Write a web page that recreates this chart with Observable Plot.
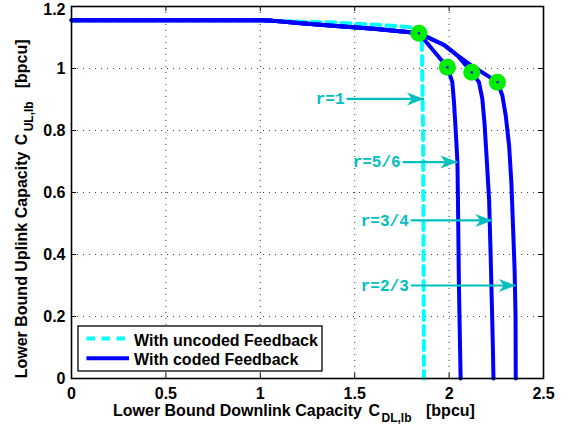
<!DOCTYPE html>
<html><head><meta charset="utf-8">
<script src="https://cdn.jsdelivr.net/npm/d3@7"></script>
<script src="https://cdn.jsdelivr.net/npm/@observablehq/plot@0.6"></script>
<style>body{margin:0;background:#fff;} svg{display:block}</style>
</head><body><div id="chart"></div>
<script>
// ---- tick labels ----
const xTicks = [0, 0.5, 1, 1.5, 2, 2.5];
const xTickLabels = ["0", "0.5", "1", "1.5", "2", "2.5"];
const yTicks = [0, 0.2, 0.4, 0.6, 0.8, 1, 1.2];
const yTickLabels = ["0", "0.2", "0.4", "0.6", "0.8", "1", "1.2"];

// ---- uncoded feedback (cyan dashed) ----
const uncodedX = [0, 1.0, 1.4, 1.7, 1.82, 1.855, 1.862, 1.867];
const uncodedY = [1.155, 1.155, 1.148, 1.138, 1.132, 1.11, 0.8, 0];

// ---- coded feedback (blue), shared upper part ----
const sharedX = [0, 1.0, 1.05, 1.1, 1.2, 1.4, 1.6, 1.78, 1.84];
const sharedY = [1.156, 1.156, 1.155, 1.152, 1.147, 1.137, 1.128, 1.118, 1.114];

// r = 5/6 branch
const r56X = [1.991, 2.017, 2.026, 2.035, 2.044, 2.047, 2.052, 2.058, 2.061];
const r56Y = [1.004, 0.956, 0.891, 0.8, 0.7, 0.574, 0.3, 0.1, 0];
// r = 3/4 branch
const r34X = [1.973, 2.044, 2.12, 2.158, 2.176, 2.188, 2.2, 2.212, 2.22, 2.226, 2.232, 2.235];
const r34Y = [1.076, 1.042, 0.988, 0.956, 0.902, 0.82, 0.7, 0.574, 0.4, 0.25, 0.1, 0];
// r = 2/3 branch
const r23X = [1.973, 2.044, 2.132, 2.203, 2.256, 2.282, 2.3, 2.318, 2.33, 2.338, 2.347, 2.352, 2.353];
const r23Y = [1.076, 1.042, 1.004, 0.977, 0.956, 0.913, 0.848, 0.75, 0.63, 0.5, 0.35, 0.2, 0];

// ---- green operating points ----
const markX = [1.84, 1.991, 2.12, 2.256];
const markY = [1.114, 1.004, 0.988, 0.956];

// ---- rate annotations ----
const rateLabels = ["r=1", "r=5/6", "r=3/4", "r=2/3"];
const rateY = [0.902, 0.698, 0.51, 0.30];
const rateX1 = [1.457, 1.754, 1.797, 1.797];
const rateX2 = [1.867, 2.044, 2.229, 2.353];

// ---- legend ----
const legendLabels = ["With uncoded Feedback", "With coded Feedback"];

// ---- build tables ----
const zip = (xs, ys, s) => xs.map((x, i) => ({x, y: ys[i], s}));
const uncoded = zip(uncodedX, uncodedY, "uncoded");
const coded = [
  ...zip([...sharedX, ...r56X], [...sharedY, ...r56Y], "5/6"),
  ...zip([...sharedX, ...r34X], [...sharedY, ...r34Y], "3/4"),
  ...zip([...sharedX, ...r23X], [...sharedY, ...r23Y], "2/3")
];
const marks = zip(markX, markY, "m");
const rates = rateLabels.map((t, i) => ({t, y: rateY[i], x1: rateX1[i], x2: rateX2[i]}));

const teal = "#00bfbf";
const arrowHead = {draw(ctx) { ctx.moveTo(0, 0); ctx.lineTo(-17, -6.5); ctx.lineTo(-12, 0); ctx.lineTo(-17, 6.5); ctx.closePath(); }};

const W = 567, H = 427, mL = 71, mR = 24, mT = 6, mB = 49;
const iw = W - mL - mR, ih = H - mT - mB;
const topTick = yTicks[yTicks.length - 1];
const fmtY = d => yTickLabels[yTicks.indexOf(d)];

const chart = Plot.plot({
  width: W, height: H,
  marginLeft: mL, marginRight: mR, marginTop: mT, marginBottom: mB,
  style: {fontFamily: "Liberation Sans, Arial, sans-serif", fontSize: "16px", fontWeight: "bold", background: "#fff", color: "#000", overflow: "visible"},
  x: {domain: [0, 2.5]},
  y: {domain: [0, 1.2]},
  marks: [
    Plot.gridX(xTicks, {stroke: "#000", strokeOpacity: 0.75, strokeDasharray: "1,5"}),
    Plot.gridY(yTicks, {stroke: "#000", strokeOpacity: 0.75, strokeDasharray: "1,5"}),
    Plot.ruleX(xTicks, {x: d => d, insetTop: ih - 5, stroke: "#000"}),
    Plot.ruleX(xTicks, {x: d => d, insetBottom: ih - 5, stroke: "#000"}),
    Plot.ruleY(yTicks, {y: d => d, insetRight: iw - 5, stroke: "#000"}),
    Plot.ruleY(yTicks, {y: d => d, insetLeft: iw - 5, stroke: "#000"}),
    Plot.axisX(xTicks, {tickSize: 0, tickPadding: 9, tickFormat: d => xTickLabels[xTicks.indexOf(d)], fontSize: 16, fontWeight: "bold", label: null}),
    Plot.axisY(yTicks.filter(d => d !== topTick), {tickSize: 0, tickPadding: 6, tickFormat: fmtY, fontSize: 16, fontWeight: "bold", label: null}),
    Plot.axisY([topTick], {tickSize: 0, tickPadding: 6, tickFormat: fmtY, fontSize: 16, fontWeight: "bold", label: null, dy: 3}),
    Plot.line(uncoded, {x: "x", y: "y", stroke: "#00ffff", strokeWidth: 4, strokeDasharray: "9,6", curve: "linear"}),
    Plot.line(coded, {x: "x", y: "y", z: "s", stroke: "#0000ff", strokeWidth: 4, curve: "linear", strokeLinejoin: "round"}),
    Plot.dot(marks, {x: "x", y: "y", r: 8.5, fill: "#00ee00", stroke: "none"}),
    Plot.dot(marks, {x: "x", y: "y", r: 1.2, fill: "#0000ff", stroke: "none"}),
    Plot.link(rates, {x1: "x1", x2: "x2", y1: "y", y2: "y", stroke: teal, strokeWidth: 2.2}),
    Plot.dot(rates, {x: "x2", y: "y", symbol: arrowHead, fill: teal, stroke: "none"}),
    Plot.text(rates, {x: "x1", y: "y", text: "t", textAnchor: "end", dx: -2, fill: teal, fontFamily: "Liberation Mono, monospace", fontSize: 16, fontWeight: "bold"}),
    Plot.frame({stroke: "#000", strokeWidth: 1.6})
  ]
});

document.getElementById("chart").appendChild(chart);
const svg = d3.select(chart);

// axis labels with subscripts
const xl = svg.append("text").attr("y", 416).attr("text-anchor", "start").attr("font-size", 16).attr("font-weight", "bold").attr("fill", "#000");
xl.append("tspan").attr("x", 113).text("Lower Bound Downlink Capacity");
xl.append("tspan").attr("x", 368.5).text("C");
xl.append("tspan").attr("x", 381.5).attr("dy", 5.5).attr("font-size", 12).text("DL,lb");
xl.append("tspan").attr("x", 426).attr("dy", -5.5).text("[bpcu]");

const yl = svg.append("text").attr("transform", "translate(27,378.3) rotate(-90)").attr("text-anchor", "start").attr("font-size", 16).attr("font-weight", "bold").attr("fill", "#000");
yl.append("tspan").attr("x", 0).text("Lower Bound Uplink Capacity");
yl.append("tspan").attr("x", 233).text("C");
yl.append("tspan").attr("x", 247).attr("dy", 5.5).attr("font-size", 12).text("UL,lb");
yl.append("tspan").attr("x", 290).attr("dy", -5.5).text("[bpcu]");

// legend
const lg = svg.append("g").attr("text-anchor", "start");
lg.append("rect").attr("x", 78).attr("y", 326).attr("width", 244).attr("height", 45)
  .attr("fill", "#fff").attr("stroke", "#000").attr("stroke-width", 1.3);
lg.append("line").attr("x1", 86.5).attr("x2", 129).attr("y1", 338.5).attr("y2", 338.5)
  .attr("stroke", "#00ffff").attr("stroke-width", 4).attr("stroke-dasharray", "8.5,6.5");
lg.append("line").attr("x1", 86.5).attr("x2", 129).attr("y1", 358.3).attr("y2", 358.3)
  .attr("stroke", "#0000ff").attr("stroke-width", 4);
lg.append("text").attr("x", 134).attr("y", 346).attr("font-size", 16).attr("font-weight", "bold").text(legendLabels[0]);
lg.append("text").attr("x", 134).attr("y", 365).attr("font-size", 16).attr("font-weight", "bold").text(legendLabels[1]);
</script>
</body></html>
